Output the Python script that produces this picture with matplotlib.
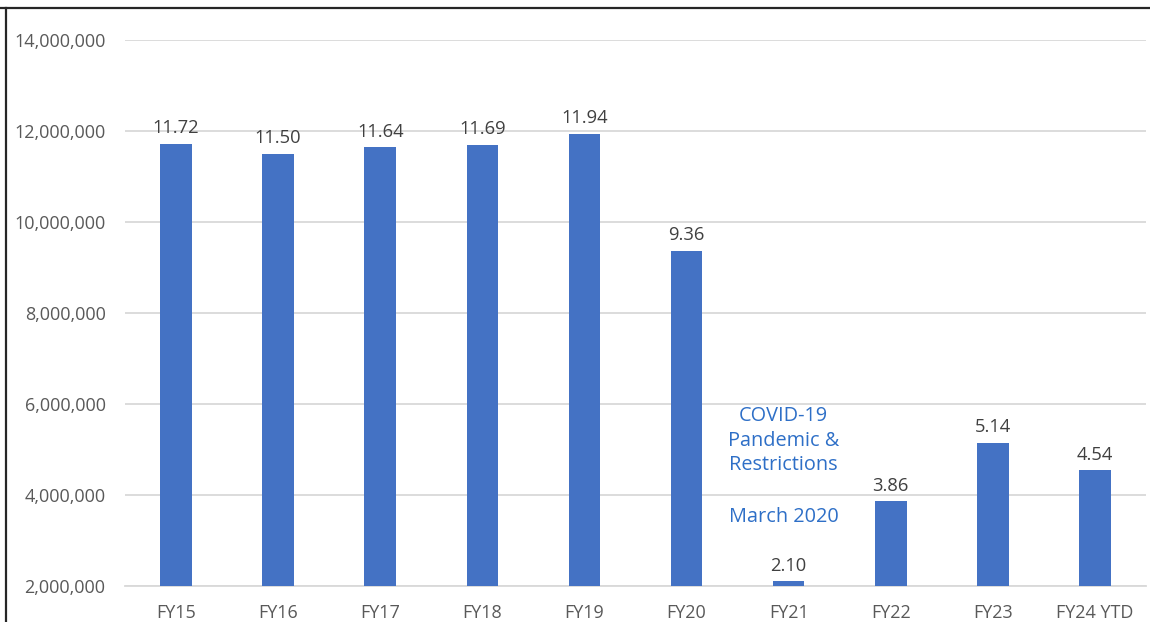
import matplotlib
matplotlib.use("Agg")
import matplotlib.pyplot as plt
from matplotlib.lines import Line2D
from matplotlib.ticker import FuncFormatter

categories = ["FY15", "FY16", "FY17", "FY18", "FY19", "FY20", "FY21", "FY22", "FY23", "FY24 YTD"]
ridership_millions = [11.72, 11.50, 11.64, 11.69, 11.94, 9.36, 2.10, 3.86, 5.14, 4.54]
y_ticks = [2_000_000, 4_000_000, 6_000_000, 8_000_000, 10_000_000, 12_000_000, 14_000_000]

plt.rcParams["font.family"] = ["Open Sans", "DejaVu Sans"]

bar_color = "#4472C4"
text_gray = "#595959"
note_blue = "#2E6FC7"

fig = plt.figure(figsize=(11.5, 6.22), dpi=100)
ax = fig.add_axes([0.1087, 0.0579, 0.8878, 0.8778])

values = [v * 1_000_000 for v in ridership_millions]
x = list(range(len(categories)))
ax.bar(x, [v - y_ticks[0] for v in values], bottom=y_ticks[0], width=0.31,
       color=bar_color, zorder=3)

for xi, v, m in zip(x, values, ridership_millions):
    ax.text(xi, v + 150_000, f"{m:.2f}", ha="center", va="bottom",
            fontsize=13.2, color="#404040", zorder=4)

ax.set_xlim(-0.5, len(categories) - 0.5)
ax.set_ylim(y_ticks[0], y_ticks[-1])
ax.set_yticks(y_ticks)
ax.yaxis.set_major_formatter(FuncFormatter(lambda v, p: f"{int(v):,}"))
ax.set_xticks(x)
ax.set_xticklabels(categories)
ax.tick_params(axis="both", length=0, labelsize=13, colors=text_gray)
ax.tick_params(axis="y", pad=14)
ax.tick_params(axis="x", pad=13)
ax.grid(axis="y", color="#D9D9D9", linewidth=1.3, zorder=0)
for side in ("top", "right", "left"):
    ax.spines[side].set_visible(False)
ax.spines["bottom"].set_color("#D9D9D9")
ax.spines["bottom"].set_linewidth(1.3)

ax.text(5.95, 5_190_000, "COVID-19\nPandemic &\nRestrictions", ha="center", va="center",
        fontsize=14.3, color=note_blue, linespacing=1.3)
ax.text(5.95, 3_520_000, "March 2020", ha="center", va="center",
        fontsize=14.3, color=note_blue)

# frame lines along the top and left edges
fig.add_artist(Line2D([0.0, 1.0], [1 - 8 / 622, 1 - 8 / 622], transform=fig.transFigure,
                      color="#262626", linewidth=1.6))
fig.add_artist(Line2D([6 / 1150, 6 / 1150], [0.0, 1 - 8 / 622], transform=fig.transFigure,
                      color="#262626", linewidth=1.6))

fig.savefig("out.png", dpi=100, facecolor="white")
